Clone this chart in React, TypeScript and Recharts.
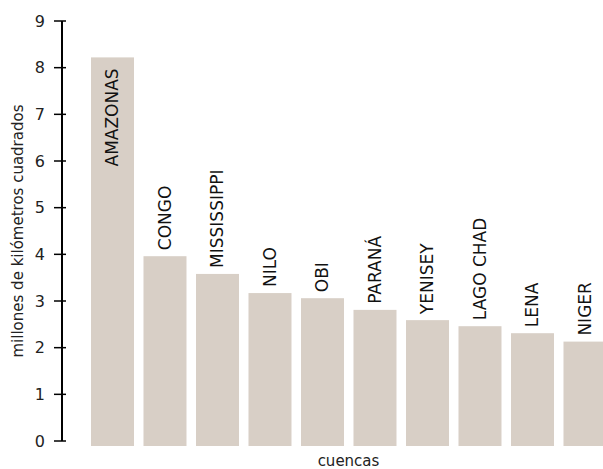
import React from "react";
import { BarChart, Bar, XAxis, YAxis, LabelList } from "recharts";

const basins = ["AMAZONAS", "CONGO", "MISSISSIPPI", "NILO", "OBI", "PARANÁ", "YENISEY", "LAGO CHAD", "LENA", "NIGER"];
const areaMillionKm2 = [8.22, 3.96, 3.58, 3.17, 3.06, 2.81, 2.59, 2.46, 2.31, 2.13];
const yTicks = [0, 1, 2, 3, 4, 5, 6, 7, 8, 9];

const data = basins.map((name, i) => ({ name, area: areaMillionKm2[i] }));

const font = "'DejaVu Sans', sans-serif";
const barFill = "#d8cfc6";
const TOP = 21;

function YTick(props: any) {
  const { x, y, payload } = props;
  return (
    <g>
      <line x1={x + 9} x2={x + 21} y1={y} y2={y} stroke="#000" strokeWidth={1.5} />
      <text x={x} y={y} textAnchor="end" dominantBaseline="central" fontFamily={font} fontSize={16} fill="#222">
        {payload.value}
      </text>
    </g>
  );
}

function BarName(props: any) {
  const { x, y, width, value } = props;
  const cx = x + width / 2 + 6;
  const len = String(value).length * 10;
  const inside = y - 6 - len < TOP;
  const ty = inside ? y + 11 : y - 6;
  return (
    <text
      x={cx}
      y={ty}
      transform={`rotate(-90, ${cx}, ${ty})`}
      textAnchor={inside ? "end" : "start"}
      fontFamily={font}
      fontSize={17}
      fill="#111"
    >
      {value}
    </text>
  );
}

function BarShape(props: any) {
  const { x, y, width, height } = props;
  return <rect x={x} y={y} width={width} height={height + 5} fill={barFill} />;
}

export default function App() {
  return (
    <div style={{ position: "absolute", left: 0, top: 0, width: 603, height: 469, overflow: "hidden", background: "#fff" }}>
      <BarChart width={620} height={469} data={data} margin={{ top: TOP, right: 9, bottom: 0, left: 0 }} barCategoryGap="9.5%">
        <XAxis
          dataKey="name"
          tick={false}
          axisLine={false}
          tickLine={false}
          height={28}
          padding={{ left: 24, right: 0 }}
          label={{
            content: (p: any) => {
              const vb = p.viewBox;
              return (
                <text x={vb.x + 24 + (vb.width - 24) / 2} y={vb.y + vb.height - 3} textAnchor="middle" fontFamily={font} fontSize={15} fill="#222">
                  cuencas
                </text>
              );
            },
          }}
        />
        <YAxis
          width={62}
          domain={[0, 9]}
          ticks={yTicks}
          interval={0}
          axisLine={{ stroke: "#000", strokeWidth: 2 }}
          tickLine={false}
          tickSize={8}
          tickMargin={9}
          tick={<YTick />}
          label={{
            content: (p: any) => {
              const vb = p.viewBox;
              const cx = 23;
              const cy = vb.y + vb.height / 2;
              return (
                <text x={cx} y={cy} transform={`rotate(-90, ${cx}, ${cy})`} textAnchor="middle" fontFamily={font} fontSize={15} fill="#222">
                  millones de kilómetros cuadrados
                </text>
              );
            },
          }}
        />
        <Bar dataKey="area" fill={barFill} shape={<BarShape />} isAnimationActive={false}>
          <LabelList dataKey="name" content={<BarName />} />
        </Bar>
      </BarChart>
    </div>
  );
}
